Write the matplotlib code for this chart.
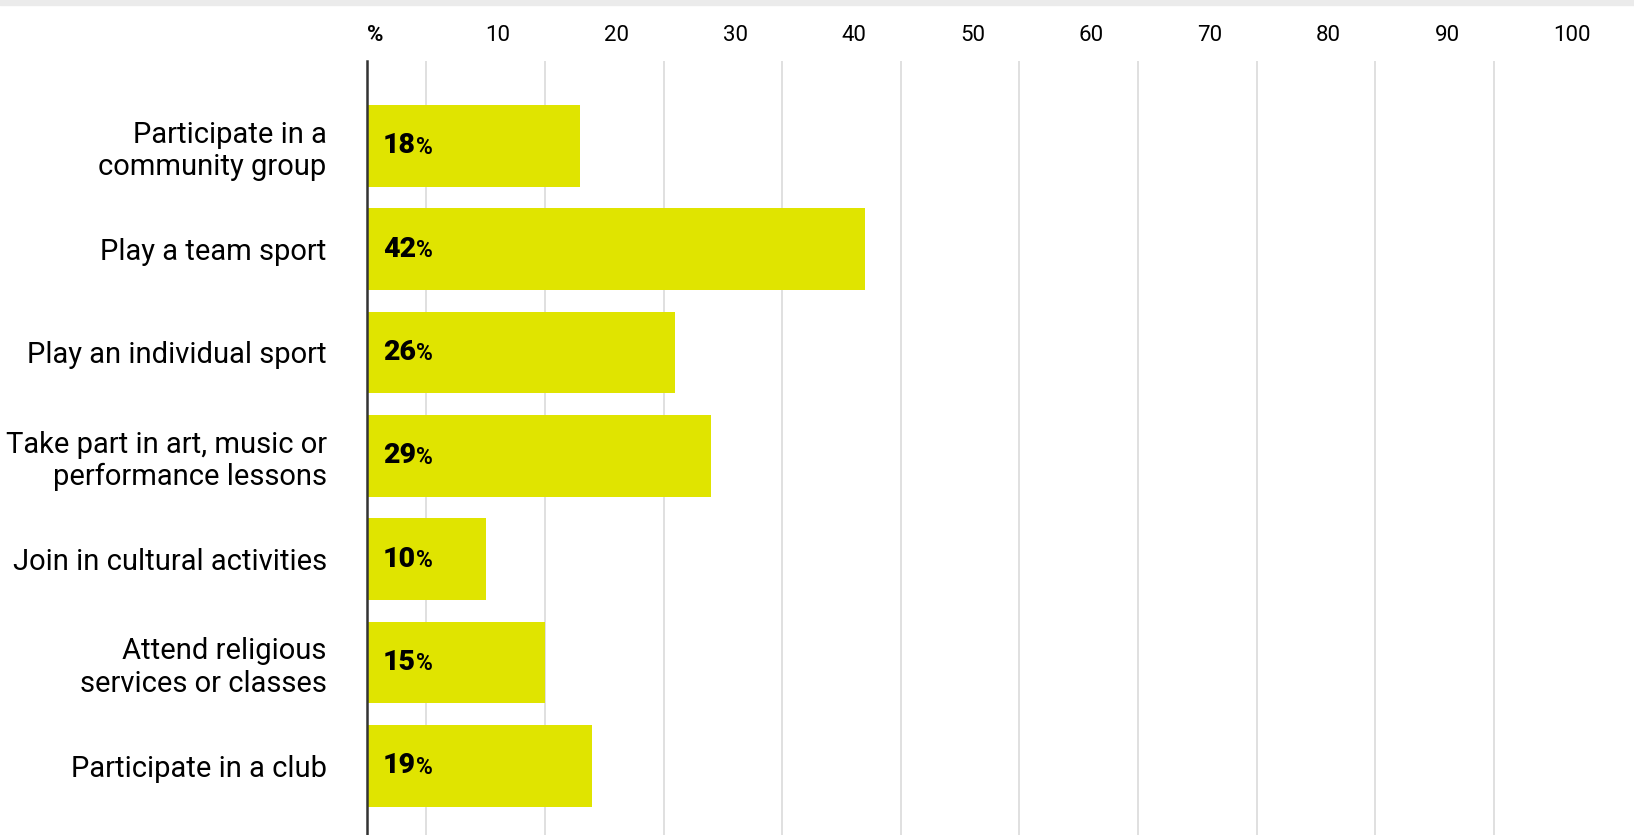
import matplotlib.pyplot as plt
from matplotlib.patches import Rectangle
import numpy as np

categories = ["Participate in a\ncommunity group", "Play a team sport",
              "Play an individual sport",
              "Take part in art, music or\nperformance lessons",
              "Join in cultural activities", "Attend religious\nservices or classes",
              "Participate in a club"]
values = [18, 42, 26, 29, 10, 15, 19]
tick_values = list(range(0, 101, 10))
tick_labels = ["%"] + [str(t) for t in tick_values[1:]]

plt.rcParams['font.family'] = ['Roboto', 'DejaVu Sans']

fig = plt.figure(figsize=(16.34, 8.35), dpi=100)
ax = fig.add_axes([367/1634, 0, (1553-367)/1634, 1 - 61/835])

# bande grise en haut
fig.patches.append(Rectangle((0, 1 - 5/835), 1, 5/835, transform=fig.transFigure,
                             color="#ebebeb", zorder=0))

y = np.arange(len(categories))
ax.barh(y, values, height=0.79, color="#e0e400", zorder=3)

ax.set_xlim(0, 100)
ax.set_ylim(6.67, -0.82)

# grille tous les 5
ax.set_xticks(np.arange(5, 101, 5), minor=True)
ax.grid(axis="x", which="minor", color="#dddddd", linewidth=1.3, zorder=0)
ax.tick_params(axis="x", which="minor", length=0)

ax.xaxis.tick_top()
ax.set_xticks(tick_values)
ax.set_xticklabels(tick_labels, fontsize=16, ha="left")
ax.tick_params(axis="x", which="major", length=0, pad=10.5)
ax.get_xticklabels()[0].set_fontweight("bold")

ax.set_yticks(y)
ax.set_yticklabels(categories, fontsize=21)
ax.tick_params(axis="y", length=0, pad=29)
for lab in ax.get_yticklabels():
    lab.set_linespacing(1.2)

for s in ["top", "right", "bottom"]:
    ax.spines[s].set_visible(False)
ax.spines["left"].set_color("#333333")
ax.spines["left"].set_linewidth(1.8)
ax.spines["left"].set_zorder(4)

# étiquettes des valeurs
for yi, v in zip(y, values):
    t = ax.annotate(str(v), xy=(0, yi), xytext=(11.5, 0), textcoords="offset points",
                    ha="left", va="center", fontsize=20.5, fontweight="black",
                    color="black", zorder=5)
    ax.annotate("%", xy=(1, 0), xycoords=t, xytext=(0, 0.4), textcoords="offset points",
                ha="left", va="bottom", fontsize=16.5, fontweight="semibold",
                color="black", zorder=5)

fig.savefig("out.png", dpi=100)
